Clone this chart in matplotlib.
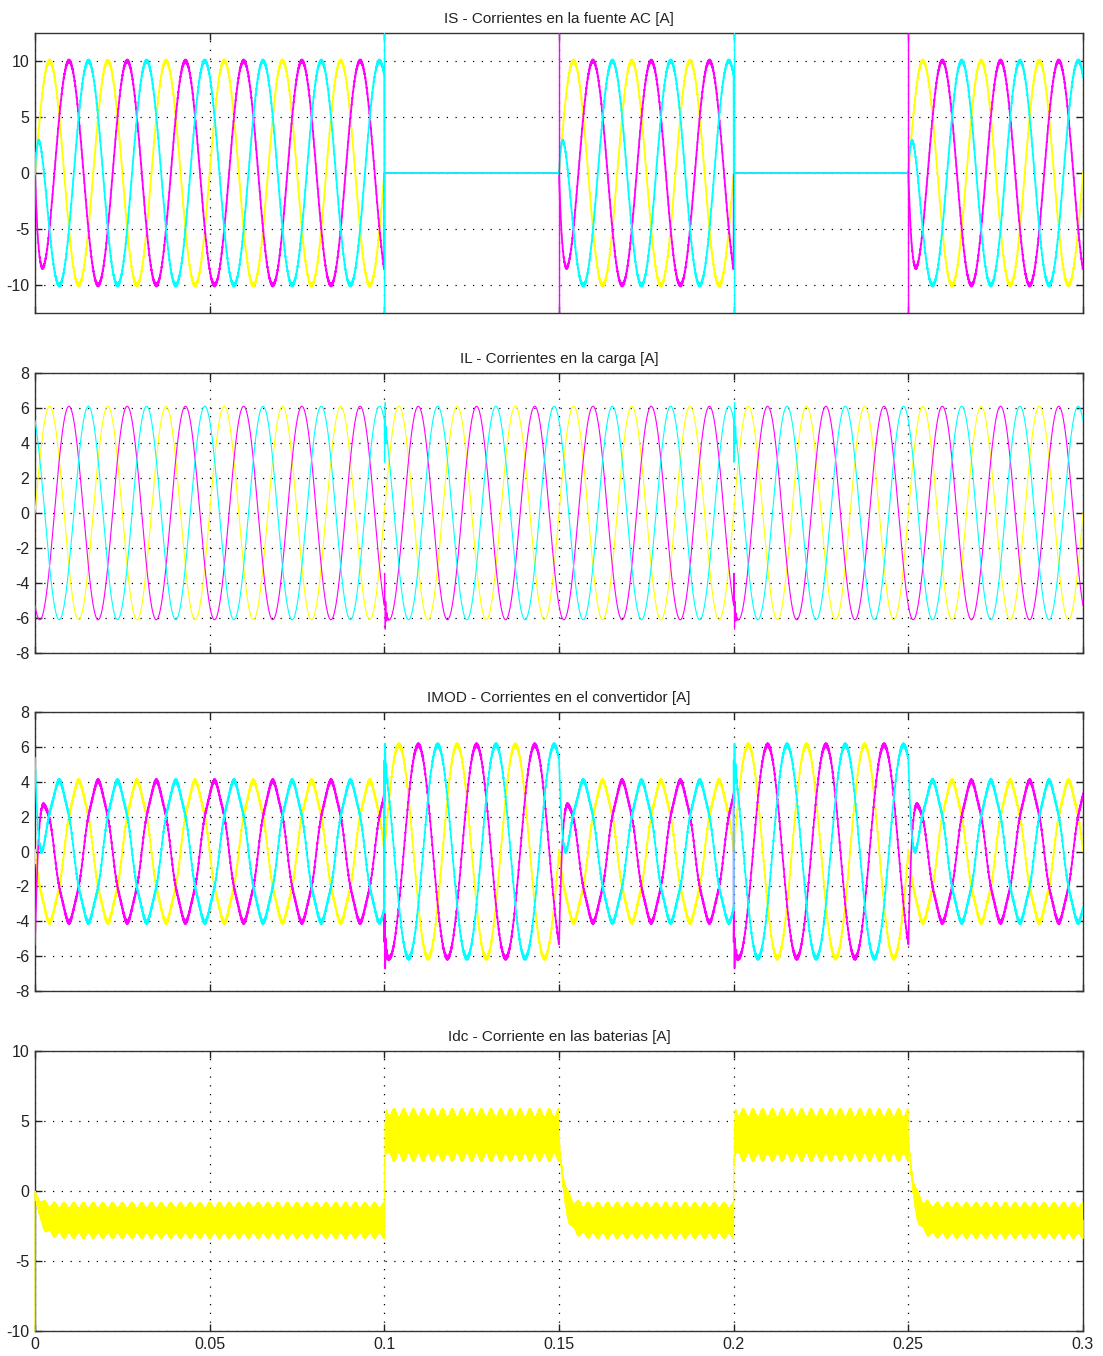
import numpy as np
import matplotlib.pyplot as plt

# --- scope data ---
f_grid = 60.0
t_end = 0.3
dt = 1e-5
f_sw = 5000.0
phase_deg = [0.0, -120.0, 120.0]
phase_colors = ['#ffff00', '#ff00ff', '#00ffff']

seg_edges = [0.0, 0.1, 0.15, 0.2, 0.25, 0.3]
source_on = [1, 0, 1, 0, 1]

# IS - source currents
is_amp = 10.0
is_tau = 0.00106
is_ripple = 0.14
is_spike_t = [0.1, 0.15, 0.2, 0.25]
is_spike_phase = [2, 1, 2, 1]

# IL - load currents
il_amp = 6.1
il_glitch_t = [0.1, 0.2]
il_glitch_amp = [0.0, 2.5, -3.0]
il_glitch_tau = 0.0003
il_glitch_f = 3000.0

# IMOD - converter currents
imod_h5 = -0.15
imod_ripple = 0.12

# Idc - battery current
idc_level = [-2.1, 4.0, -2.1, 4.0, -2.1]
idc_swing = [1.1, 1.6, 1.1, 1.6, 1.1]
idc_bump = [0.2, 0.3, 0.2, 0.3, 0.2]
idc_tau = [0.0015, 0.0002, 0.0015, 0.0002, 0.0015]
idc_overshoot = [0.0, 2.5, 0.0, 2.5, 0.0]
idc_t0_value = -10.0

titles = ['IS - Corrientes en la fuente AC [A]',
          'IL - Corrientes en la carga [A]',
          'IMOD - Corrientes en el convertidor [A]',
          'Idc - Corriente en las baterias [A]']
x_ticks = [0, 0.05, 0.1, 0.15, 0.2, 0.25, 0.3]
x_labels = ['0', '0.05', '0.1', '0.15', '0.2', '0.25', '0.3']
y_ticks = [[-10, -5, 0, 5, 10],
           [-8, -6, -4, -2, 0, 2, 4, 6, 8],
           [-8, -6, -4, -2, 0, 2, 4, 6, 8],
           [-10, -5, 0, 5, 10]]
y_lims = [(-12.5, 12.5), (-8, 8), (-8, 8), (-10, 10)]

# --- build traces ---
t = np.arange(0, t_end + dt / 2, dt)
w = 2 * np.pi * f_grid
seg = np.clip(np.searchsorted(seg_edges, t, side='right') - 1, 0, len(source_on) - 1)
t0 = np.array(seg_edges)[seg]
tp = t - t0
on = np.array(source_on)[seg]

IS, IL, IMOD = [], [], []
for k, pd in enumerate(phase_deg):
    ph = np.deg2rad(pd)
    steady = is_amp * np.sin(w * t + ph)
    offset = -is_amp * np.sin(w * t0 + ph) * np.exp(-tp / is_tau)
    rip = np.sin(2 * np.pi * f_sw * t + 2.1 * k)
    i_s = on * (steady + offset + is_ripple * rip)

    i_l = il_amp * np.sin(w * t + ph)
    for ts in il_glitch_t:
        m = t >= ts
        tt = t[m] - ts
        i_l[m] += il_glitch_amp[k] * np.exp(-tt / il_glitch_tau) * np.sin(2 * np.pi * il_glitch_f * tt)

    dist = imod_h5 * np.sin(5 * (w * t + ph))
    rip_m = np.sin(2 * np.pi * f_sw * t + 1.3 * k + 1.0)
    i_m = i_l - on * (steady + offset) + on * dist + imod_ripple * rip_m

    IS.append(i_s)
    IL.append(i_l)
    IMOD.append(i_m)

prev = np.array([0.0] + idc_level[:-1])[seg]
lvl = np.array(idc_level)[seg]
tau = np.array(idc_tau)[seg]
ramp = np.exp(-tp / tau)
mean = lvl + (prev - lvl) * ramp + np.array(idc_overshoot)[seg] * np.exp(-tp / 0.0004)
swing = (np.array(idc_swing)[seg] + np.array(idc_bump)[seg] * np.cos(6 * w * t)) * (1 - ramp)
idc = mean + swing * np.sin(2 * np.pi * f_sw * t)
idc[0] = idc_t0_value

# --- figure ---
plt.rcParams['font.family'] = ['Liberation Sans', 'DejaVu Sans']
plt.rcParams['axes.unicode_minus'] = False

fig = plt.figure(figsize=(11.03, 13.56), dpi=100)
W, H = 1103.0, 1356.0
ax_px = [(33, 313), (373, 653), (712, 991), (1051, 1331)]
axes = []
for top, bot in ax_px:
    axes.append(fig.add_axes([35 / W, 1 - bot / H, 1048 / W, (bot - top) / H]))

for k in range(3):
    axes[0].plot(t, IS[k], color=phase_colors[k], lw=1.3)
    axes[1].plot(t, IL[k], color=phase_colors[k], lw=0.8)
    axes[2].plot(t, IMOD[k], color=phase_colors[k], lw=1.2)
for ts, k in zip(is_spike_t, is_spike_phase):
    axes[0].axvline(ts, color=phase_colors[k], lw=1.0)
axes[3].plot(t, idc, color=phase_colors[0], lw=0.8, clip_on=False, zorder=3)

for i, ax in enumerate(axes):
    ax.set_xlim(0, t_end)
    ax.set_ylim(*y_lims[i])
    ax.set_xticks(x_ticks)
    ax.set_yticks(y_ticks[i])
    if i == 3:
        ax.set_xticklabels(x_labels)
    else:
        ax.set_xticklabels([])
    ax.set_axisbelow(True)
    ax.grid(True, color='k', linestyle=(0, (1, 6)), linewidth=0.9)
    ax.tick_params(direction='in', top=True, right=True, length=5, width=1,
                   colors='#222222', labelsize=11.5, pad=4)
    for s in ax.spines.values():
        s.set_color('#333333')
        s.set_linewidth(1.0)
        s.set_zorder(1)
    ax.set_title(titles[i], fontsize=11, color='#222222', pad=7)

fig.savefig('out.png', dpi=100)
